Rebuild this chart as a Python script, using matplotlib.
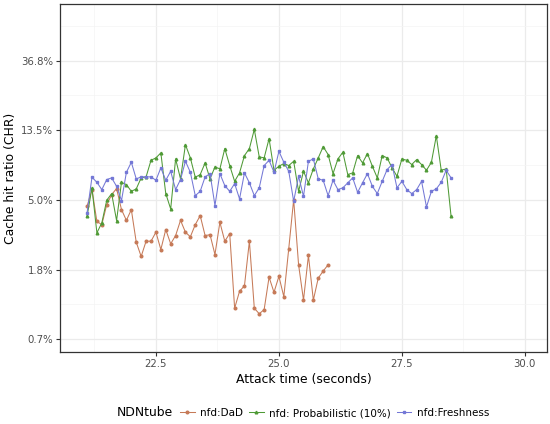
import numpy as np
import matplotlib.pyplot as plt
from matplotlib.ticker import FixedLocator, NullFormatter

# valores (CHR en %), paso de 0.1 s desde 21.1
t0 = 21.1
step = 0.1

chr_dad = [4.54, 5.77, 3.65, 3.49, 4.65, 5.37, 5.86, 4.33, 3.71, 4.33,
           2.71, 2.21, 2.75, 2.75, 3.13, 2.44, 3.25, 2.65, 2.98, 3.71,
           3.13, 2.93, 3.49, 3.97, 2.98, 3.02, 2.27, 3.61, 2.75, 3.07,
           1.05, 1.34, 1.45, 2.75, 1.05, 0.97, 1.03, 1.64, 1.32, 1.66,
           1.24, 2.47, 5.00, 1.96, 1.18, 2.24, 1.18, 1.62, 1.79, 1.96]

chr_prob = [3.93, 5.92, 3.10, 3.58, 4.95, 5.45, 3.70, 6.41, 6.20, 5.63,
            5.83, 6.83, 6.93, 8.79, 9.10, 9.78, 5.45, 4.37, 8.97, 6.73,
            11.0, 9.10, 6.89, 7.16, 8.47, 6.73, 8.00, 7.77, 10.4, 8.15,
            6.50, 7.34, 9.41, 10.4, 13.7, 9.24, 9.10, 12.0, 7.62, 8.07,
            8.39, 8.15, 8.67, 5.63, 7.51, 6.36, 7.77, 9.10, 10.7, 9.55,
            7.26, 8.97, 9.87, 7.16, 7.34, 9.41, 8.47, 9.68, 8.07, 6.83,
            9.41, 9.10, 7.89, 6.99, 8.97, 8.79, 8.27, 8.88, 8.27, 7.62,
            8.55, 12.5, 7.62, 7.77, 3.93]

chr_fresh = [4.13, 6.89, 6.41, 5.77, 6.67, 6.83, 6.05, 4.93, 7.40, 8.55,
             6.73, 6.93, 6.93, 6.93, 6.60, 7.89, 6.60, 7.51, 5.77, 6.67,
             8.67, 7.40, 5.29, 5.63, 6.93, 7.26, 4.59, 7.26, 6.11, 5.63,
             6.29, 5.05, 7.34, 6.36, 5.29, 5.92, 8.15, 8.79, 7.40, 10.0,
             8.55, 7.51, 4.88, 6.99, 5.24, 8.67, 8.97, 6.73, 6.60, 5.29,
             6.60, 5.77, 5.92, 6.36, 6.83, 5.55, 6.36, 7.26, 6.05, 5.45,
             6.50, 7.70, 8.27, 5.92, 6.50, 5.77, 5.45, 5.77, 6.50, 4.50,
             5.63, 5.83, 6.41, 7.62, 6.83]

labels = ['nfd:DaD', 'nfd: Probabilistic (10%)', 'nfd:Freshness']
colors = ['#c67a58', '#4f9a36', '#7478d6']
markers = ['o', '^', 's']

x_ticks = [22.5, 25.0, 27.5, 30.0]
y_ticks = [100 * np.exp(-k) for k in range(5, 0, -1)]
y_tick_labels = ['0.7%', '1.8%', '5.0%', '13.5%', '36.8%']

#%%
fig = plt.figure(figsize=(5.5, 4.24), dpi=100)
ax = fig.add_axes([60 / 550, 1 - 352 / 424, 487 / 550, 348 / 424])

for serie, lab, col, mk in zip([chr_dad, chr_prob, chr_fresh], labels, colors, markers):
    x = t0 + step * np.arange(len(serie))
    ax.plot(x, serie, color=col, lw=0.75, marker=mk, ms=1.9, label=lab, zorder=3)

ax.set_yscale('log')
ax.set_xlim(20.55, 30.45)
ax.set_ylim(0.56, 83)

ax.set_xticks(x_ticks)
ax.set_xticklabels(['22.5', '25.0', '27.5', '30.0'])
ax.set_yticks(y_ticks)
ax.set_yticklabels(y_tick_labels)
ax.yaxis.set_minor_locator(FixedLocator([100 * np.exp(-k - 0.5) for k in range(0, 6)]))
ax.yaxis.set_minor_formatter(NullFormatter())
ax.xaxis.set_minor_locator(FixedLocator([21.25, 23.75, 26.25, 28.75]))

ax.grid(True, which='major', color='#ebebeb', lw=0.9)
ax.grid(True, which='minor', color='#f4f4f4', lw=0.5)
ax.set_axisbelow(True)
ax.tick_params(which='major', length=3, width=0.8, color='#333333',
               labelsize=7.3, labelcolor='#4d4d4d', pad=2)
ax.tick_params(which='minor', length=0)
for s in ax.spines.values():
    s.set_color('#333333')
    s.set_linewidth(0.9)

ax.set_xlabel('Attack time (seconds)', fontsize=8.9, labelpad=3)
ax.set_ylabel('Cache hit ratio (CHR)', fontsize=8.9)
ax.yaxis.set_label_coords(-0.088, 0.5)

fig.text(145 / 550, 1 - 413 / 424, 'NDNtube', fontsize=8.9, ha='center', va='center')
fig.legend(loc='center left', bbox_to_anchor=(178 / 550, 1 - 413 / 424), ncol=3, frameon=False,
           fontsize=7.5, handlelength=1.4, handletextpad=0.5, columnspacing=0.6,
           borderaxespad=0, borderpad=0.2)

plt.savefig('out.png')
